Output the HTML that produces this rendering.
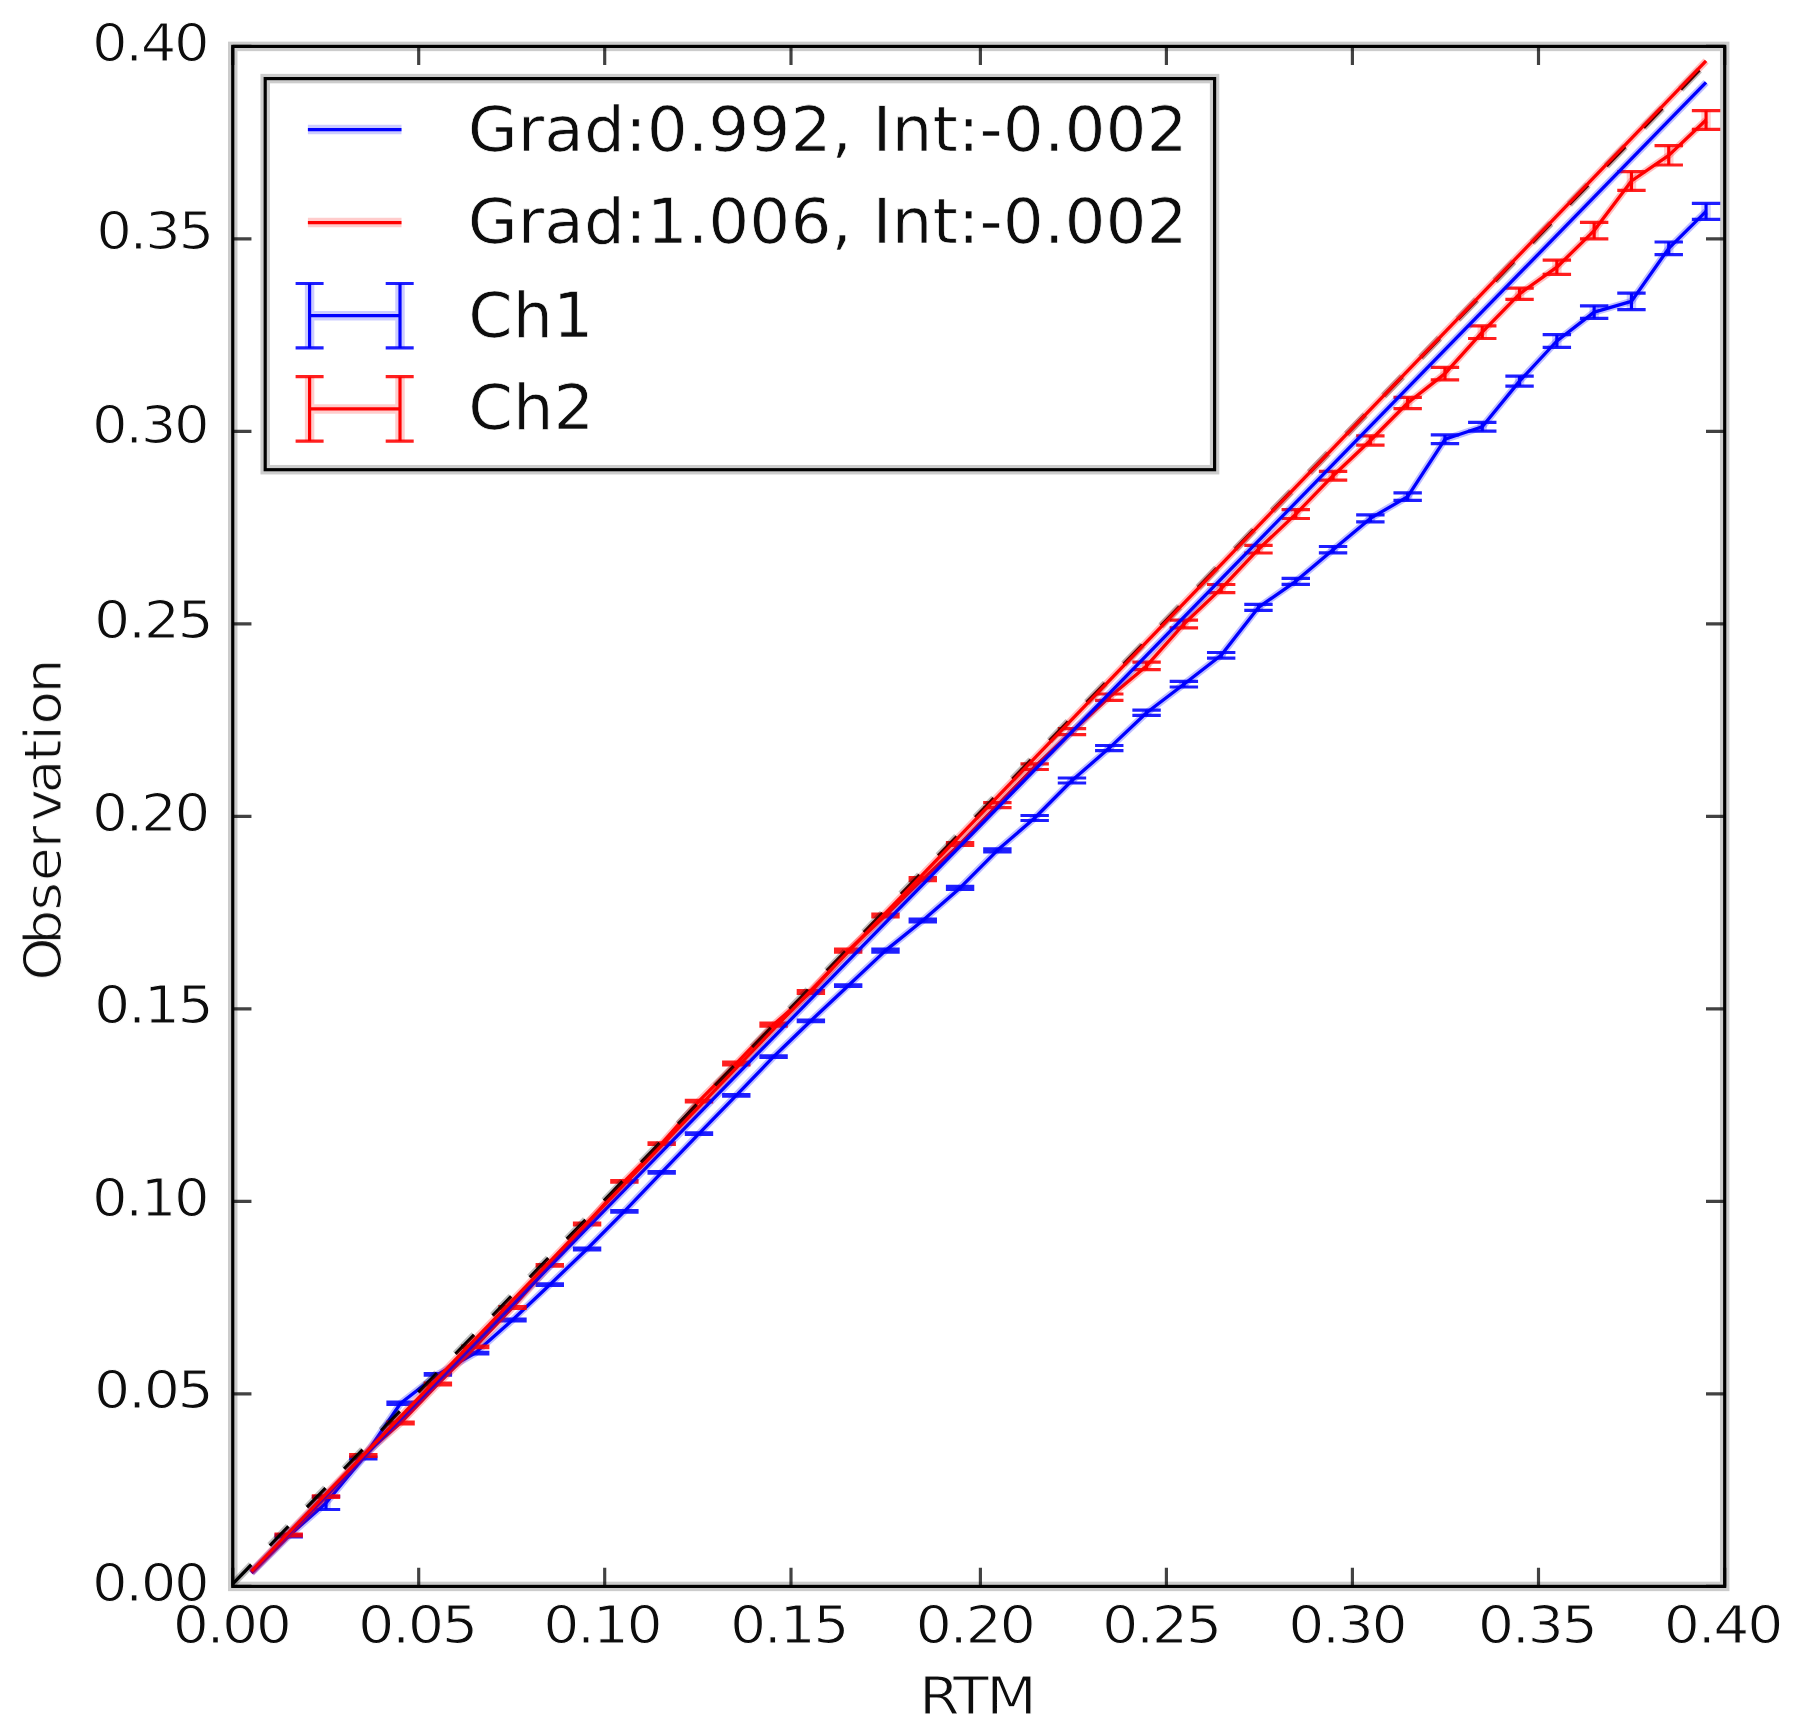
<!DOCTYPE html>
<html><head><meta charset="utf-8"><title>RTM vs Observation</title>
<style>
html,body{margin:0;padding:0;background:#fff;}
body{width:1795px;height:1734px;overflow:hidden;}
svg{display:block;}
text{font-family:"DejaVu Sans","Liberation Sans",sans-serif;fill:#111;stroke:#fff;stroke-width:1.1px;paint-order:fill stroke;}
.t{font-size:52.2px;letter-spacing:-2.2px;}
.l{font-size:62.0px;stroke-width:0.7px;}
</style></head><body>
<svg width="1795" height="1734" viewBox="0 0 1795 1734">
<rect x="0" y="0" width="1795" height="1734" fill="#fff"/>

<defs><filter id="b1" x="0" y="0" width="1795" height="1734" filterUnits="userSpaceOnUse"><feGaussianBlur stdDeviation="0.75"/></filter><filter id="b2" x="0" y="0" width="1795" height="1734" filterUnits="userSpaceOnUse"><feGaussianBlur stdDeviation="0.5"/></filter><clipPath id="ax"><rect x="232.75" y="46.4" width="1491.95" height="1540.0"/></clipPath></defs>
<g clip-path="url(#ax)"><g filter="url(#b1)" fill="none" stroke-linecap="butt" stroke-linejoin="round">
<polyline points="251.40,1573.00 288.70,1536.00 326.00,1503.00 363.30,1458.00 400.59,1403.30 437.89,1374.40 475.19,1353.10 512.49,1320.00 549.79,1284.70 587.09,1249.00 624.39,1211.40 661.69,1172.30 698.98,1133.70 736.28,1095.30 773.58,1056.70 810.88,1020.80 848.18,985.70 885.48,950.60 922.78,920.50 960.08,887.90 997.37,850.30 1034.67,818.00 1071.97,780.50 1109.27,748.10 1146.57,712.80 1183.87,684.20 1221.17,655.30 1258.47,607.40 1295.76,581.30 1333.06,549.70 1370.36,518.40 1407.66,496.60 1444.96,439.30 1482.26,426.80 1519.56,381.10 1556.86,341.00 1594.15,312.10 1631.45,301.40 1668.75,248.35 1706.05,211.40" stroke="#0000ff" stroke-width="7.2" stroke-opacity="0.25"/>
<polyline points="251.40,1573.00 288.70,1536.00 326.00,1503.00 363.30,1458.00 400.59,1403.30 437.89,1374.40 475.19,1353.10 512.49,1320.00 549.79,1284.70 587.09,1249.00 624.39,1211.40 661.69,1172.30 698.98,1133.70 736.28,1095.30 773.58,1056.70 810.88,1020.80 848.18,985.70 885.48,950.60 922.78,920.50 960.08,887.90 997.37,850.30 1034.67,818.00 1071.97,780.50 1109.27,748.10 1146.57,712.80 1183.87,684.20 1221.17,655.30 1258.47,607.40 1295.76,581.30 1333.06,549.70 1370.36,518.40 1407.66,496.60 1444.96,439.30 1482.26,426.80 1519.56,381.10 1556.86,341.00 1594.15,312.10 1631.45,301.40 1668.75,248.35 1706.05,211.40" stroke="#0000ff" stroke-width="3.3"/>
<path d="M288.70 1535.20V1536.80M326.00 1496.50V1509.50M363.30 1457.20V1458.80M400.59 1402.10V1404.50M437.89 1373.60V1375.20M475.19 1352.30V1353.90M512.49 1319.20V1320.80M549.79 1283.90V1285.50M587.09 1248.20V1249.80M624.39 1210.60V1212.20M661.69 1171.50V1173.10M698.98 1132.90V1134.50M736.28 1094.50V1096.10M773.58 1055.90V1057.50M810.88 1020.00V1021.60M848.18 984.90V986.50M885.48 949.10V952.10M922.78 919.00V922.00M960.08 886.40V889.40M997.37 848.80V851.80M1034.67 815.50V820.50M1071.97 778.00V783.00M1109.27 745.50V750.70M1146.57 710.20V715.40M1183.87 681.40V687.00M1221.17 652.50V658.10M1258.47 604.40V610.40M1295.76 578.30V584.30M1333.06 546.50V552.90M1370.36 514.90V521.90M1407.66 492.80V500.40M1444.96 434.90V443.70M1482.26 422.40V431.20M1519.56 376.10V386.10M1556.86 334.70V347.30M1594.15 305.80V318.40M1631.45 293.20V309.60M1668.75 242.00V254.70M1706.05 203.40V219.40" stroke="#0000ff" stroke-width="9.50" stroke-opacity="0.18"/>
<path d="M288.70 1535.20V1536.80M326.00 1496.50V1509.50M363.30 1457.20V1458.80M400.59 1402.10V1404.50M437.89 1373.60V1375.20M475.19 1352.30V1353.90M512.49 1319.20V1320.80M549.79 1283.90V1285.50M587.09 1248.20V1249.80M624.39 1210.60V1212.20M661.69 1171.50V1173.10M698.98 1132.90V1134.50M736.28 1094.50V1096.10M773.58 1055.90V1057.50M810.88 1020.00V1021.60M848.18 984.90V986.50M885.48 949.10V952.10M922.78 919.00V922.00M960.08 886.40V889.40M997.37 848.80V851.80M1034.67 815.50V820.50M1071.97 778.00V783.00M1109.27 745.50V750.70M1146.57 710.20V715.40M1183.87 681.40V687.00M1221.17 652.50V658.10M1258.47 604.40V610.40M1295.76 578.30V584.30M1333.06 546.50V552.90M1370.36 514.90V521.90M1407.66 492.80V500.40M1444.96 434.90V443.70M1482.26 422.40V431.20M1519.56 376.10V386.10M1556.86 334.70V347.30M1594.15 305.80V318.40M1631.45 293.20V309.60M1668.75 242.00V254.70M1706.05 203.40V219.40" stroke="#0000ff" stroke-width="3.17"/>
<path d="M274.50 1535.20H302.90M274.50 1536.80H302.90M311.80 1496.50H340.20M311.80 1509.50H340.20M349.10 1457.20H377.50M349.10 1458.80H377.50M386.39 1402.10H414.79M386.39 1404.50H414.79M423.69 1373.60H452.09M423.69 1375.20H452.09M460.99 1352.30H489.39M460.99 1353.90H489.39M498.29 1319.20H526.69M498.29 1320.80H526.69M535.59 1283.90H563.99M535.59 1285.50H563.99M572.89 1248.20H601.29M572.89 1249.80H601.29M610.19 1210.60H638.59M610.19 1212.20H638.59M647.49 1171.50H675.89M647.49 1173.10H675.89M684.78 1132.90H713.18M684.78 1134.50H713.18M722.08 1094.50H750.48M722.08 1096.10H750.48M759.38 1055.90H787.78M759.38 1057.50H787.78M796.68 1020.00H825.08M796.68 1021.60H825.08M833.98 984.90H862.38M833.98 986.50H862.38M871.28 949.10H899.68M871.28 952.10H899.68M908.58 919.00H936.98M908.58 922.00H936.98M945.88 886.40H974.28M945.88 889.40H974.28M983.17 848.80H1011.57M983.17 851.80H1011.57M1020.47 815.50H1048.87M1020.47 820.50H1048.87M1057.77 778.00H1086.17M1057.77 783.00H1086.17M1095.07 745.50H1123.47M1095.07 750.70H1123.47M1132.37 710.20H1160.77M1132.37 715.40H1160.77M1169.67 681.40H1198.07M1169.67 687.00H1198.07M1206.97 652.50H1235.37M1206.97 658.10H1235.37M1244.27 604.40H1272.67M1244.27 610.40H1272.67M1281.56 578.30H1309.96M1281.56 584.30H1309.96M1318.86 546.50H1347.26M1318.86 552.90H1347.26M1356.16 514.90H1384.56M1356.16 521.90H1384.56M1393.46 492.80H1421.86M1393.46 500.40H1421.86M1430.76 434.90H1459.16M1430.76 443.70H1459.16M1468.06 422.40H1496.46M1468.06 431.20H1496.46M1505.36 376.10H1533.76M1505.36 386.10H1533.76M1542.66 334.70H1571.06M1542.66 347.30H1571.06M1579.95 305.80H1608.35M1579.95 318.40H1608.35M1617.25 293.20H1645.65M1617.25 309.60H1645.65M1654.55 242.00H1682.95M1654.55 254.70H1682.95M1691.85 203.40H1720.25M1691.85 219.40H1720.25" stroke="#0000ff" stroke-width="3.17" stroke-opacity="0.88"/>
<polyline points="251.40,1572.50 288.70,1535.00 326.00,1496.60 363.30,1455.50 400.59,1423.00 437.89,1384.00 475.19,1346.90 512.49,1307.50 549.79,1265.30 587.09,1224.00 624.39,1181.30 661.69,1143.70 698.98,1101.10 736.28,1063.50 773.58,1024.60 810.88,992.00 848.18,950.60 885.48,915.50 922.78,879.10 960.08,844.00 997.37,805.10 1034.67,766.70 1071.97,731.60 1109.27,697.20 1146.57,665.90 1183.87,624.00 1221.17,588.60 1258.47,549.20 1295.76,514.10 1333.06,475.70 1370.36,440.50 1407.66,403.00 1444.96,373.60 1482.26,332.20 1519.56,293.80 1556.86,267.20 1594.15,230.60 1631.45,181.00 1668.75,155.35 1706.05,120.00" stroke="#ff0000" stroke-width="7.2" stroke-opacity="0.25"/>
<polyline points="251.40,1572.50 288.70,1535.00 326.00,1496.60 363.30,1455.50 400.59,1423.00 437.89,1384.00 475.19,1346.90 512.49,1307.50 549.79,1265.30 587.09,1224.00 624.39,1181.30 661.69,1143.70 698.98,1101.10 736.28,1063.50 773.58,1024.60 810.88,992.00 848.18,950.60 885.48,915.50 922.78,879.10 960.08,844.00 997.37,805.10 1034.67,766.70 1071.97,731.60 1109.27,697.20 1146.57,665.90 1183.87,624.00 1221.17,588.60 1258.47,549.20 1295.76,514.10 1333.06,475.70 1370.36,440.50 1407.66,403.00 1444.96,373.60 1482.26,332.20 1519.56,293.80 1556.86,267.20 1594.15,230.60 1631.45,181.00 1668.75,155.35 1706.05,120.00" stroke="#ff0000" stroke-width="3.3"/>
<path d="M288.70 1534.20V1535.80M326.00 1495.80V1497.40M363.30 1454.70V1456.30M400.59 1422.20V1423.80M437.89 1383.20V1384.80M475.19 1346.10V1347.70M512.49 1306.70V1308.30M549.79 1264.50V1266.10M587.09 1223.20V1224.80M624.39 1180.50V1182.10M661.69 1142.90V1144.50M698.98 1100.30V1101.90M736.28 1062.00V1065.00M773.58 1023.10V1026.10M810.88 990.50V993.50M848.18 949.10V952.10M885.48 914.00V917.00M922.78 877.60V880.60M960.08 842.50V845.50M997.37 802.60V807.60M1034.67 763.90V769.50M1071.97 728.60V734.60M1109.27 694.00V700.40M1146.57 662.10V669.70M1183.87 620.20V627.80M1221.17 584.50V592.70M1258.47 545.40V553.00M1295.76 509.70V518.50M1333.06 471.30V480.10M1370.36 435.90V445.10M1407.66 397.40V408.60M1444.96 367.30V379.90M1482.26 325.90V338.50M1519.56 288.20V299.40M1556.86 260.10V274.30M1594.15 222.40V238.80M1631.45 171.60V190.40M1668.75 145.70V165.00M1706.05 110.60V129.40" stroke="#ff0000" stroke-width="9.50" stroke-opacity="0.18"/>
<path d="M288.70 1534.20V1535.80M326.00 1495.80V1497.40M363.30 1454.70V1456.30M400.59 1422.20V1423.80M437.89 1383.20V1384.80M475.19 1346.10V1347.70M512.49 1306.70V1308.30M549.79 1264.50V1266.10M587.09 1223.20V1224.80M624.39 1180.50V1182.10M661.69 1142.90V1144.50M698.98 1100.30V1101.90M736.28 1062.00V1065.00M773.58 1023.10V1026.10M810.88 990.50V993.50M848.18 949.10V952.10M885.48 914.00V917.00M922.78 877.60V880.60M960.08 842.50V845.50M997.37 802.60V807.60M1034.67 763.90V769.50M1071.97 728.60V734.60M1109.27 694.00V700.40M1146.57 662.10V669.70M1183.87 620.20V627.80M1221.17 584.50V592.70M1258.47 545.40V553.00M1295.76 509.70V518.50M1333.06 471.30V480.10M1370.36 435.90V445.10M1407.66 397.40V408.60M1444.96 367.30V379.90M1482.26 325.90V338.50M1519.56 288.20V299.40M1556.86 260.10V274.30M1594.15 222.40V238.80M1631.45 171.60V190.40M1668.75 145.70V165.00M1706.05 110.60V129.40" stroke="#ff0000" stroke-width="3.17"/>
<path d="M274.50 1534.20H302.90M274.50 1535.80H302.90M311.80 1495.80H340.20M311.80 1497.40H340.20M349.10 1454.70H377.50M349.10 1456.30H377.50M386.39 1422.20H414.79M386.39 1423.80H414.79M423.69 1383.20H452.09M423.69 1384.80H452.09M460.99 1346.10H489.39M460.99 1347.70H489.39M498.29 1306.70H526.69M498.29 1308.30H526.69M535.59 1264.50H563.99M535.59 1266.10H563.99M572.89 1223.20H601.29M572.89 1224.80H601.29M610.19 1180.50H638.59M610.19 1182.10H638.59M647.49 1142.90H675.89M647.49 1144.50H675.89M684.78 1100.30H713.18M684.78 1101.90H713.18M722.08 1062.00H750.48M722.08 1065.00H750.48M759.38 1023.10H787.78M759.38 1026.10H787.78M796.68 990.50H825.08M796.68 993.50H825.08M833.98 949.10H862.38M833.98 952.10H862.38M871.28 914.00H899.68M871.28 917.00H899.68M908.58 877.60H936.98M908.58 880.60H936.98M945.88 842.50H974.28M945.88 845.50H974.28M983.17 802.60H1011.57M983.17 807.60H1011.57M1020.47 763.90H1048.87M1020.47 769.50H1048.87M1057.77 728.60H1086.17M1057.77 734.60H1086.17M1095.07 694.00H1123.47M1095.07 700.40H1123.47M1132.37 662.10H1160.77M1132.37 669.70H1160.77M1169.67 620.20H1198.07M1169.67 627.80H1198.07M1206.97 584.50H1235.37M1206.97 592.70H1235.37M1244.27 545.40H1272.67M1244.27 553.00H1272.67M1281.56 509.70H1309.96M1281.56 518.50H1309.96M1318.86 471.30H1347.26M1318.86 480.10H1347.26M1356.16 435.90H1384.56M1356.16 445.10H1384.56M1393.46 397.40H1421.86M1393.46 408.60H1421.86M1430.76 367.30H1459.16M1430.76 379.90H1459.16M1468.06 325.90H1496.46M1468.06 338.50H1496.46M1505.36 288.20H1533.76M1505.36 299.40H1533.76M1542.66 260.10H1571.06M1542.66 274.30H1571.06M1579.95 222.40H1608.35M1579.95 238.80H1608.35M1617.25 171.60H1645.65M1617.25 190.40H1645.65M1654.55 145.70H1682.95M1654.55 165.00H1682.95M1691.85 110.60H1720.25M1691.85 129.40H1720.25" stroke="#ff0000" stroke-width="3.17" stroke-opacity="0.88"/>
<line x1="232.75" y1="1583.90" x2="1706.05" y2="63.15" stroke="#000" stroke-width="7.2" stroke-opacity="0.25" stroke-dasharray="26.68 26.68"/>
<line x1="232.75" y1="1583.90" x2="1706.05" y2="63.15" stroke="#000" stroke-width="3.3" stroke-opacity="1" stroke-dasharray="26.68 26.68"/>
<line x1="251.40" y1="1571.92" x2="1706.05" y2="82.44" stroke="#0000ff" stroke-width="7.2" stroke-opacity="0.25"/>
<line x1="251.40" y1="1571.92" x2="1706.05" y2="82.44" stroke="#0000ff" stroke-width="3.3" stroke-opacity="1"/>
<line x1="251.40" y1="1571.46" x2="1706.05" y2="60.95" stroke="#ff0000" stroke-width="7.2" stroke-opacity="0.25"/>
<line x1="251.40" y1="1571.46" x2="1706.05" y2="60.95" stroke="#ff0000" stroke-width="3.3" stroke-opacity="1"/>
</g></g>
<path d="M232.75 1586.4v-18.7M232.75 46.4v18.7M232.75 1586.40h18.7M1724.7 1586.40h-18.7M418.70 1586.4v-18.7M418.70 46.4v18.7M232.75 1393.90h18.7M1724.7 1393.90h-18.7M604.70 1586.4v-18.7M604.70 46.4v18.7M232.75 1201.40h18.7M1724.7 1201.40h-18.7M791.00 1586.4v-18.7M791.00 46.4v18.7M232.75 1008.90h18.7M1724.7 1008.90h-18.7M980.40 1586.4v-18.7M980.40 46.4v18.7M232.75 816.40h18.7M1724.7 816.40h-18.7M1166.40 1586.4v-18.7M1166.40 46.4v18.7M232.75 623.90h18.7M1724.7 623.90h-18.7M1352.40 1586.4v-18.7M1352.40 46.4v18.7M232.75 431.40h18.7M1724.7 431.40h-18.7M1538.50 1586.4v-18.7M1538.50 46.4v18.7M232.75 238.90h18.7M1724.7 238.90h-18.7M1724.70 1586.4v-18.7M1724.70 46.4v18.7M232.75 46.40h18.7M1724.7 46.40h-18.7" stroke="#000" stroke-opacity="0.74" stroke-width="3.17" fill="none"/>
<rect x="232.75" y="46.4" width="1491.95" height="1540.00" fill="none" stroke="#000" stroke-opacity="0.2" stroke-width="9.50"/>
<rect x="232.75" y="46.4" width="1491.95" height="1540.00" fill="none" stroke="#000" stroke-width="3.17"/>
<rect x="265.2" y="78.6" width="949.40" height="391.10" fill="#fff" stroke="#000" stroke-opacity="0.2" stroke-width="9.50"/>
<rect x="265.2" y="78.6" width="949.40" height="391.10" fill="none" stroke="#000" stroke-width="3.17"/>
<line x1="307.9" y1="129.55" x2="401.5" y2="129.55" stroke="#0000ff" stroke-opacity="0.2" stroke-width="9.50"/>
<line x1="307.9" y1="129.55" x2="401.5" y2="129.55" stroke="#0000ff" stroke-width="3.17"/>
<line x1="307.9" y1="222.60" x2="401.5" y2="222.60" stroke="#ff0000" stroke-opacity="0.2" stroke-width="9.50"/>
<line x1="307.9" y1="222.60" x2="401.5" y2="222.60" stroke="#ff0000" stroke-width="3.17"/>
<path d="M309.6 315.70H400.0M309.6 283.50V347.90M400.0 283.50V347.90" fill="none" stroke="#0000ff" stroke-opacity="0.2" stroke-width="9.50"/>
<path d="M309.6 315.70H400.0M309.6 283.50V347.90M400.0 283.50V347.90" fill="none" stroke="#0000ff" stroke-width="3.17"/>
<path d="M295.60 283.50H323.60M295.60 347.90H323.60M385.70 283.50H413.70M385.70 347.90H413.70" fill="none" stroke="#0000ff" stroke-opacity="0.88" stroke-width="3.17"/>
<path d="M309.6 408.90H400.0M309.6 376.70V441.10M400.0 376.70V441.10" fill="none" stroke="#ff0000" stroke-opacity="0.2" stroke-width="9.50"/>
<path d="M309.6 408.90H400.0M309.6 376.70V441.10M400.0 376.70V441.10" fill="none" stroke="#ff0000" stroke-width="3.17"/>
<path d="M295.60 376.70H323.60M295.60 441.10H323.60M385.70 376.70H413.70M385.70 441.10H413.70" fill="none" stroke="#ff0000" stroke-opacity="0.88" stroke-width="3.17"/>
<g filter="url(#b2)">
<text class="t" x="231.10" y="1643.25" text-anchor="middle" lengthAdjust="spacingAndGlyphs" textLength="116.90">0.00</text>
<text class="t" x="207.40" y="1600.50" text-anchor="end" lengthAdjust="spacingAndGlyphs" textLength="115.40">0.00</text>
<text class="t" x="416.89" y="1643.25" text-anchor="middle" lengthAdjust="spacingAndGlyphs" textLength="117.90">0.05</text>
<text class="t" x="211.55" y="1408.10" text-anchor="end" lengthAdjust="spacingAndGlyphs" textLength="117.50">0.05</text>
<text class="t" x="601.84" y="1643.25" text-anchor="middle" lengthAdjust="spacingAndGlyphs" textLength="117.20">0.10</text>
<text class="t" x="207.40" y="1215.55" text-anchor="end" lengthAdjust="spacingAndGlyphs" textLength="115.40">0.10</text>
<text class="t" x="788.58" y="1643.25" text-anchor="middle" lengthAdjust="spacingAndGlyphs" textLength="117.30">0.15</text>
<text class="t" x="211.55" y="1022.65" text-anchor="end" lengthAdjust="spacingAndGlyphs" textLength="117.50">0.15</text>
<text class="t" x="974.52" y="1643.25" text-anchor="middle" lengthAdjust="spacingAndGlyphs" textLength="118.00">0.20</text>
<text class="t" x="208.00" y="830.90" text-anchor="end" lengthAdjust="spacingAndGlyphs" textLength="116.00">0.20</text>
<text class="t" x="1160.87" y="1643.25" text-anchor="middle" lengthAdjust="spacingAndGlyphs" textLength="117.90">0.25</text>
<text class="t" x="211.55" y="638.10" text-anchor="end" lengthAdjust="spacingAndGlyphs" textLength="117.50">0.25</text>
<text class="t" x="1346.76" y="1643.25" text-anchor="middle" lengthAdjust="spacingAndGlyphs" textLength="116.90">0.30</text>
<text class="t" x="207.40" y="443.15" text-anchor="end" lengthAdjust="spacingAndGlyphs" textLength="115.40">0.30</text>
<text class="t" x="1536.66" y="1643.25" text-anchor="middle" lengthAdjust="spacingAndGlyphs" textLength="117.90">0.35</text>
<text class="t" x="211.85" y="249.05" text-anchor="end" lengthAdjust="spacingAndGlyphs" textLength="115.70">0.35</text>
<text class="t" x="1722.40" y="1643.25" text-anchor="middle" lengthAdjust="spacingAndGlyphs" textLength="117.20">0.40</text>
<text class="t" x="207.40" y="61.15" text-anchor="end" lengthAdjust="spacingAndGlyphs" textLength="115.40">0.40</text>
<text class="t" x="976.70" y="1713.50" text-anchor="middle" lengthAdjust="spacingAndGlyphs" textLength="115.30">RTM</text>
<text class="t" style="letter-spacing:0" transform="translate(61.00 980) rotate(-90) scale(1.05 1)" x="-0.67 33.62 66.19 94.29 125.62 150.86 177.71 208.57 227.90 243.24 273.05" y="0">Observation</text>
<text class="l" x="467.80" y="150.70" textLength="719.90" lengthAdjust="spacingAndGlyphs">Grad:0.992, Int:-0.002</text>
<text class="l" x="467.80" y="243.40" textLength="719.90" lengthAdjust="spacingAndGlyphs">Grad:1.006, Int:-0.002</text>
<text class="l" x="468.30" y="336.70" textLength="125.00" lengthAdjust="spacingAndGlyphs">Ch1</text>
<text class="l" x="468.30" y="429.00" textLength="126.00" lengthAdjust="spacingAndGlyphs">Ch2</text>
</g>
</svg></body></html>
